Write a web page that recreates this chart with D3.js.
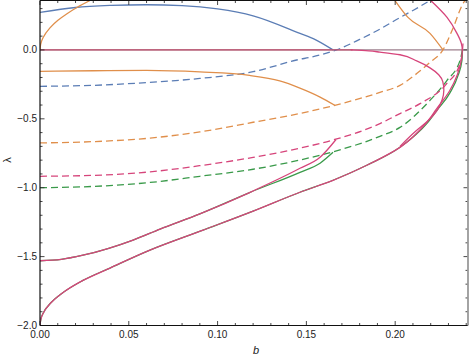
<!DOCTYPE html>
<html>
<head>
<meta charset="utf-8">
<script src="https://cdn.jsdelivr.net/npm/d3@7"></script>
<style>
  body { margin: 0; background: #fff; }
  text { font-family: "Liberation Sans", Arial, sans-serif; }
</style>
</head>
<body>
<svg id="chart" width="474" height="358"></svg>
<script>
// axis ticks
var xMajor = [0, 0.05, 0.10, 0.15, 0.20];
var xLabels = ['0.00', '0.05', '0.10', '0.15', '0.20'];
var yMajor = [-2, -1.5, -1, -0.5, 0];
var yLabels = ['\u22122.0', '\u22121.5', '\u22121.0', '\u22120.5', '0.0'];

// curves, [b, lambda]
var blueSolid = [[0, 0.272], [0.02, 0.308], [0.04, 0.323], [0.06, 0.328], [0.08, 0.322], [0.10, 0.298],
  [0.12, 0.248], [0.1464, 0.12], [0.155, 0.075], [0.165, 0]];
var blueDashed = [[0, -0.264], [0.03, -0.257], [0.06, -0.237], [0.09, -0.207], [0.12, -0.158],
  [0.146, -0.069], [0.152, -0.054], [0.167, 0], [0.18, 0.076], [0.19, 0.141], [0.2027, 0.235],
  [0.2105, 0.29], [0.2196, 0.3587]];
var orangeRise = [[0, 0], [0.0004, 0.043], [0.0017, 0.088], [0.0056, 0.16], [0.0101, 0.215],
  [0.0152, 0.263], [0.0208, 0.308], [0.0282, 0.3587]];
var orangeFall = [[0.1999, 0.3587], [0.2072, 0.236], [0.2196, 0.12], [0.2269, 0]];
var orangeSolid = [[0, -0.156], [0.03, -0.151], [0.06, -0.149], [0.09, -0.16], [0.118, -0.185],
  [0.135, -0.225], [0.146, -0.275], [0.1577, -0.342], [0.166, -0.402]];
var orangeDashed = [[0, -0.675], [0.031, -0.665], [0.062, -0.64], [0.09, -0.595], [0.12, -0.525],
  [0.146, -0.462], [0.166, -0.402], [0.1914, -0.308], [0.2027, -0.257], [0.2123, -0.17],
  [0.2196, -0.09], [0.2269, 0], [0.2325, 0.156], [0.2382, 0.337], [0.2393, 0.3587]];
var pinkDashed = [[0, -0.917], [0.031, -0.91], [0.062, -0.885], [0.09, -0.84], [0.12, -0.78],
  [0.146, -0.714], [0.166, -0.65], [0.1914, -0.535], [0.2027, -0.462], [0.214, -0.39],
  [0.229, -0.245], [0.2365, -0.1], [0.2379, 0], [0.2382, 0.054]];
var greenDashed = [[0, -1.0], [0.031, -0.99], [0.062, -0.962], [0.09, -0.917], [0.12, -0.866],
  [0.146, -0.80], [0.166, -0.736], [0.1914, -0.627], [0.2027, -0.562], [0.2196, -0.366],
  [0.2292, -0.221], [0.2365, -0.076], [0.2379, 0]];
var pinkUpper = [[0, -1.53], [0.012, -1.52], [0.0242, -1.49], [0.0524, -1.38], [0.0676, -1.30],
  [0.09, -1.19], [0.118, -1.035], [0.1464, -0.859], [0.1577, -0.779], [0.1667, -0.65]];
var greenUpper = [[0, -1.53], [0.012, -1.52], [0.0242, -1.49], [0.0524, -1.38], [0.0676, -1.30],
  [0.09, -1.19], [0.118, -1.035], [0.1464, -0.888], [0.1577, -0.822], [0.165, -0.743]];
var greenLower = [[0, -2.0], [0.0005, -1.953], [0.0017, -1.913], [0.006, -1.837], [0.0113, -1.777],
  [0.0242, -1.673], [0.0394, -1.583], [0.0619, -1.453], [0.0918, -1.308], [0.12, -1.17],
  [0.1464, -1.033], [0.165, -0.946], [0.184, -0.837], [0.2027, -0.707], [0.2179, -0.533],
  [0.2235, -0.438], [0.2309, -0.31], [0.2354, -0.185], [0.2376, -0.076], [0.2379, 0]];
var pinkLower = [[0, -2.0], [0.0005, -1.953], [0.0017, -1.913], [0.006, -1.837], [0.0113, -1.777],
  [0.0242, -1.673], [0.0394, -1.583], [0.0619, -1.453], [0.0918, -1.308], [0.12, -1.17],
  [0.1464, -1.033], [0.165, -0.946], [0.184, -0.837], [0.2027, -0.707], [0.2175, -0.53],
  [0.2232, -0.43], [0.2305, -0.30], [0.235, -0.18], [0.2373, -0.07], [0.2378, 0],
  [0.2372, 0.05], [0.2348, 0.12], [0.2292, 0.236], [0.22, 0.3587]];
var pinkZero = [[0, 0], [0.176, 0]];
var pinkInner = [[0.175, 0], [0.185, -0.007], [0.1914, -0.016], [0.2027, -0.035],
  [0.2121, -0.08], [0.2196, -0.13], [0.2245, -0.18], [0.2268, -0.23], [0.2274, -0.29],
  [0.2265, -0.36], [0.2235, -0.44], [0.218, -0.52], [0.2115, -0.59], [0.2027, -0.70]];
var zeroLine = [[0, 0], [0.241, 0]];

var blue = '#5b7db5', orange = '#e08f4b', green = '#3a9a4a', pink = '#d6457b';

// 'x' = monotone in b, 'y' = monotone in lambda (curves that turn back)
var series = [
  { pts: zeroLine, color: '#9d7f8c', dash: null, mono: 'x' },
  { pts: blueSolid, color: blue, dash: null, mono: 'x' },
  { pts: blueDashed, color: blue, dash: '7,4', mono: 'x' },
  { pts: orangeRise, color: orange, dash: null, mono: 'y' },
  { pts: orangeFall, color: orange, dash: null, mono: 'x' },
  { pts: orangeSolid, color: orange, dash: null, mono: 'x' },
  { pts: orangeDashed, color: orange, dash: '7,4', mono: 'x' },
  { pts: greenDashed, color: green, dash: '7,4', mono: 'x' },
  { pts: pinkDashed, color: pink, dash: '7,4', mono: 'x' },
  { pts: greenUpper, color: green, dash: null, mono: 'x' },
  { pts: pinkUpper, color: pink, dash: null, mono: 'x' },
  { pts: greenLower, color: green, dash: null, mono: 'x' },
  { pts: pinkLower, color: pink, dash: null, mono: 'y' },
  { pts: pinkZero, color: '#c25270', dash: null, mono: 'x' },
  { pts: pinkInner, color: pink, dash: null, mono: 'y' }
];

var plotL = 40, plotR = 468, plotT = 0.5, plotB = 325.5;

var svg = d3.select('#chart');
var x = d3.scaleLinear().domain([0, 0.241]).range([plotL, plotR]);
var y = d3.scaleLinear().domain([-2, 0.3587]).range([plotB, plotT]);

svg.append('defs').append('clipPath').attr('id', 'plot')
  .append('rect').attr('x', plotL).attr('y', plotT).attr('width', plotR - plotL).attr('height', plotB - plotT);

var lineX = d3.line()
  .x(function(d) { return x(d[0]); })
  .y(function(d) { return y(d[1]); })
  .curve(d3.curveMonotoneX);
var lineY = d3.line()
  .x(function(d) { return x(d[0]); })
  .y(function(d) { return y(d[1]); })
  .curve(d3.curveMonotoneY);

var curves = svg.append('g').attr('clip-path', 'url(#plot)');
curves.selectAll('path')
  .data(series)
  .enter()
  .append('path')
  .attr('d', function(d) { return d.mono == 'y' ? lineY(d.pts) : lineX(d.pts); })
  .attr('fill', 'none')
  .attr('stroke', function(d) { return d.color; })
  .attr('stroke-width', 1.3)
  .attr('stroke-dasharray', function(d) { return d.dash; });

// ticks on all four sides, pointing inward
var xMinor = d3.range(0, 0.2405, 0.01).filter(function(v) { return Math.round(v * 100) % 5 != 0; });
var yMinor = d3.range(-2, 0.35, 0.1).filter(function(v) { return Math.round(v * 10) % 5 != 0; });

var axes = svg.append('g').attr('stroke', '#333').attr('stroke-width', 0.9);
[[plotB, -1], [plotT, 1]].forEach(function(side) {
  axes.append('g').selectAll('line').data(xMajor).enter().append('line')
    .attr('x1', function(d) { return x(d); }).attr('x2', function(d) { return x(d); })
    .attr('y1', side[0]).attr('y2', side[0] + side[1] * 4.5);
  axes.append('g').selectAll('line').data(xMinor).enter().append('line')
    .attr('x1', function(d) { return x(d); }).attr('x2', function(d) { return x(d); })
    .attr('y1', side[0]).attr('y2', side[0] + side[1] * 2.5);
});
[[plotL, 1], [plotR, -1]].forEach(function(side) {
  axes.append('g').selectAll('line').data(yMajor).enter().append('line')
    .attr('y1', function(d) { return y(d); }).attr('y2', function(d) { return y(d); })
    .attr('x1', side[0]).attr('x2', side[0] + side[1] * 4.5);
  axes.append('g').selectAll('line').data(yMinor).enter().append('line')
    .attr('y1', function(d) { return y(d); }).attr('y2', function(d) { return y(d); })
    .attr('x1', side[0]).attr('x2', side[0] + side[1] * 2.5);
});

// frame
svg.append('line').attr('x1', plotL).attr('x2', plotR).attr('y1', plotT).attr('y2', plotT)
  .attr('stroke', '#111').attr('stroke-width', 1.2);
svg.append('line').attr('x1', plotL).attr('x2', plotR).attr('y1', plotB).attr('y2', plotB)
  .attr('stroke', '#111').attr('stroke-width', 1.2);
svg.append('line').attr('x1', plotL).attr('x2', plotL).attr('y1', plotT).attr('y2', plotB)
  .attr('stroke', '#111').attr('stroke-width', 1.2);
svg.append('line').attr('x1', plotR).attr('x2', plotR).attr('y1', plotT).attr('y2', plotB)
  .attr('stroke', '#9a9a9a').attr('stroke-width', 1.8);

// tick labels
svg.append('g').selectAll('text').data(xMajor).enter().append('text')
  .attr('x', function(d) { return x(d); })
  .attr('y', plotB + 12)
  .attr('text-anchor', 'middle')
  .attr('font-size', 10)
  .attr('fill', '#222')
  .text(function(d, i) { return xLabels[i]; });

svg.append('g').selectAll('text').data(yMajor).enter().append('text')
  .attr('x', plotL - 3)
  .attr('y', function(d) { return y(d) + 3.5; })
  .attr('text-anchor', 'end')
  .attr('font-size', 10)
  .attr('fill', '#222')
  .text(function(d, i) { return yLabels[i]; });

// axis labels
svg.append('text').attr('x', 256).attr('y', 354).attr('text-anchor', 'middle')
  .attr('font-size', 11).attr('font-style', 'italic').attr('fill', '#222').text('b');
svg.append('text').attr('transform', 'translate(11, 160) rotate(-90)').attr('text-anchor', 'middle')
  .attr('font-size', 11).attr('fill', '#222').text('\u03bb');
</script>
</body>
</html>
